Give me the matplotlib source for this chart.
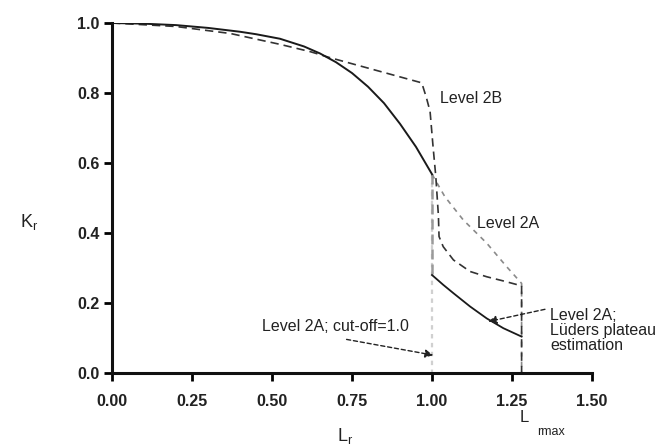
import matplotlib
matplotlib.use("Agg")
import matplotlib.pyplot as plt

plt.rcParams['font.family'] = ['Liberation Sans', 'DejaVu Sans']
plt.rcParams['mathtext.fontset'] = 'custom'
plt.rcParams['mathtext.rm'] = 'Liberation Sans'

# Option-1 type FAD (solid, up to Lr = 1)
lr_fad = [0.0, 0.1, 0.2, 0.3, 0.4, 0.45, 0.525, 0.6, 0.65, 0.7, 0.75, 0.8, 0.85, 0.9, 0.95, 1.0]
kr_fad = [1.0, 0.998, 0.994, 0.986, 0.975, 0.968, 0.955, 0.933, 0.913, 0.888, 0.857, 0.818, 0.771, 0.712, 0.646, 0.568]

# Level 2B (dashed)
lr_2b = [0.0, 0.2, 0.37, 0.525, 0.62, 0.681, 0.968, 0.983, 0.994, 1.003, 1.012, 1.02,
         1.022, 1.035, 1.067, 1.119, 1.171, 1.223, 1.28, 1.28]
kr_2b = [1.0, 0.99, 0.97, 0.939, 0.918, 0.901, 0.829, 0.785, 0.747, 0.65, 0.56, 0.45,
         0.39, 0.361, 0.323, 0.29, 0.275, 0.263, 0.249, 0.0]

# Level 2A extension beyond Lr = 1 (light dotted)
lr_2a = [1.0, 1.04, 1.098, 1.171, 1.233, 1.28, 1.28]
kr_2a = [0.568, 0.504, 0.437, 0.371, 0.304, 0.256, 0.0]

# Level 2A; Lueders plateau estimation (solid)
lr_lud = [1.0, 1.035, 1.067, 1.119, 1.171, 1.223, 1.28]
kr_lud = [0.28, 0.252, 0.228, 0.190, 0.156, 0.128, 0.104]

# cut-off at Lr = 1
lr_cut = [1.0, 1.0]
kr_cut = [0.568, 0.0]
lr_drop = [1.0, 1.0]
kr_drop = [0.568, 0.28]

x_ticks = [0.0, 0.25, 0.5, 0.75, 1.0, 1.25, 1.5]
x_labels = ['0.00', '0.25', '0.50', '0.75', '1.00', '1.25', '1.50']
y_ticks = [0.0, 0.2, 0.4, 0.6, 0.8, 1.0]
y_labels = ['0.0', '0.2', '0.4', '0.6', '0.8', '1.0']

fig = plt.figure(figsize=(6.63, 4.47), dpi=100)
ax = fig.add_axes([112/663, 74/447, 480/663, 350/447])

ax.plot(lr_cut, kr_cut, color='#d0d0d0', lw=1.6, ls=(0, (2, 2)))
ax.plot(lr_drop, kr_drop, color='#9a9a9a', lw=1.8, ls=(0, (4, 2)))
ax.plot(lr_2a, kr_2a, color='#8a8a8a', lw=1.2, ls=(0, (3, 3)))
ax.plot(lr_2b, kr_2b, color='#333333', lw=1.2, ls=(0, (5, 3)))
ax.plot(lr_fad, kr_fad, color='#1a1a1a', lw=1.4)
ax.plot(lr_lud, kr_lud, color='#1a1a1a', lw=1.3)

ax.set_xlim(0, 1.5)
ax.set_ylim(0, 1.0)
ax.set_xticks(x_ticks)
ax.set_xticklabels(x_labels, fontsize=11.5, fontweight='bold', color='#222222')
ax.set_yticks(y_ticks)
ax.set_yticklabels(y_labels, fontsize=11.5, fontweight='bold', color='#222222')
ax.tick_params(axis='x', length=6, width=2, pad=9, direction='out')
ax.tick_params(axis='y', length=6, width=2, pad=3, direction='out')
for s in ['top', 'right']:
    ax.spines[s].set_visible(False)
for s in ['left', 'bottom']:
    ax.spines[s].set_linewidth(2.2)
    ax.spines[s].set_color('#111111')

ax.text(1.025, 0.785, 'Level 2B', fontsize=11.5, va='center', ha='left', color='#222222')
ax.text(1.14, 0.426, 'Level 2A', fontsize=11.5, va='center', ha='left', color='#222222')
ax.text(0.468, 0.133, 'Level 2A; cut-off=1.0', fontsize=11.5, va='center', ha='left', color='#222222')
ax.text(1.369, 0.185, 'Level 2A;\nLüders plateau\nestimation', fontsize=11.5, va='top', ha='left',
        color='#222222', linespacing=1.0)

ax.annotate('', xy=(1.004, 0.051), xytext=(0.733, 0.096),
            arrowprops=dict(arrowstyle='-|>', color='#222222', lw=1.0, ls=(0, (3, 2)),
                            mutation_scale=12, shrinkA=0, shrinkB=0))
ax.annotate('', xy=(1.176, 0.147), xytext=(1.353, 0.182),
            arrowprops=dict(arrowstyle='-|>', color='#222222', lw=1.0, ls=(0, (3, 2)),
                            mutation_scale=12, shrinkA=0, shrinkB=0))

ax.text(-0.26, 0.43, r'$\mathregular{K_r}$', fontsize=13, va='center', ha='center',
        color='#222222', clip_on=False)
ax.text(0.728, -0.18, r'$\mathregular{L_r}$', fontsize=13, va='center', ha='center',
        color='#222222', clip_on=False)
ax.text(1.275, -0.128, 'L', fontsize=12, va='center', ha='left', color='#222222', clip_on=False)
ax.text(1.33, -0.168, 'rmax', fontsize=9, va='center', ha='left', color='#222222', clip_on=False)

fig.savefig('out.png', dpi=100)
